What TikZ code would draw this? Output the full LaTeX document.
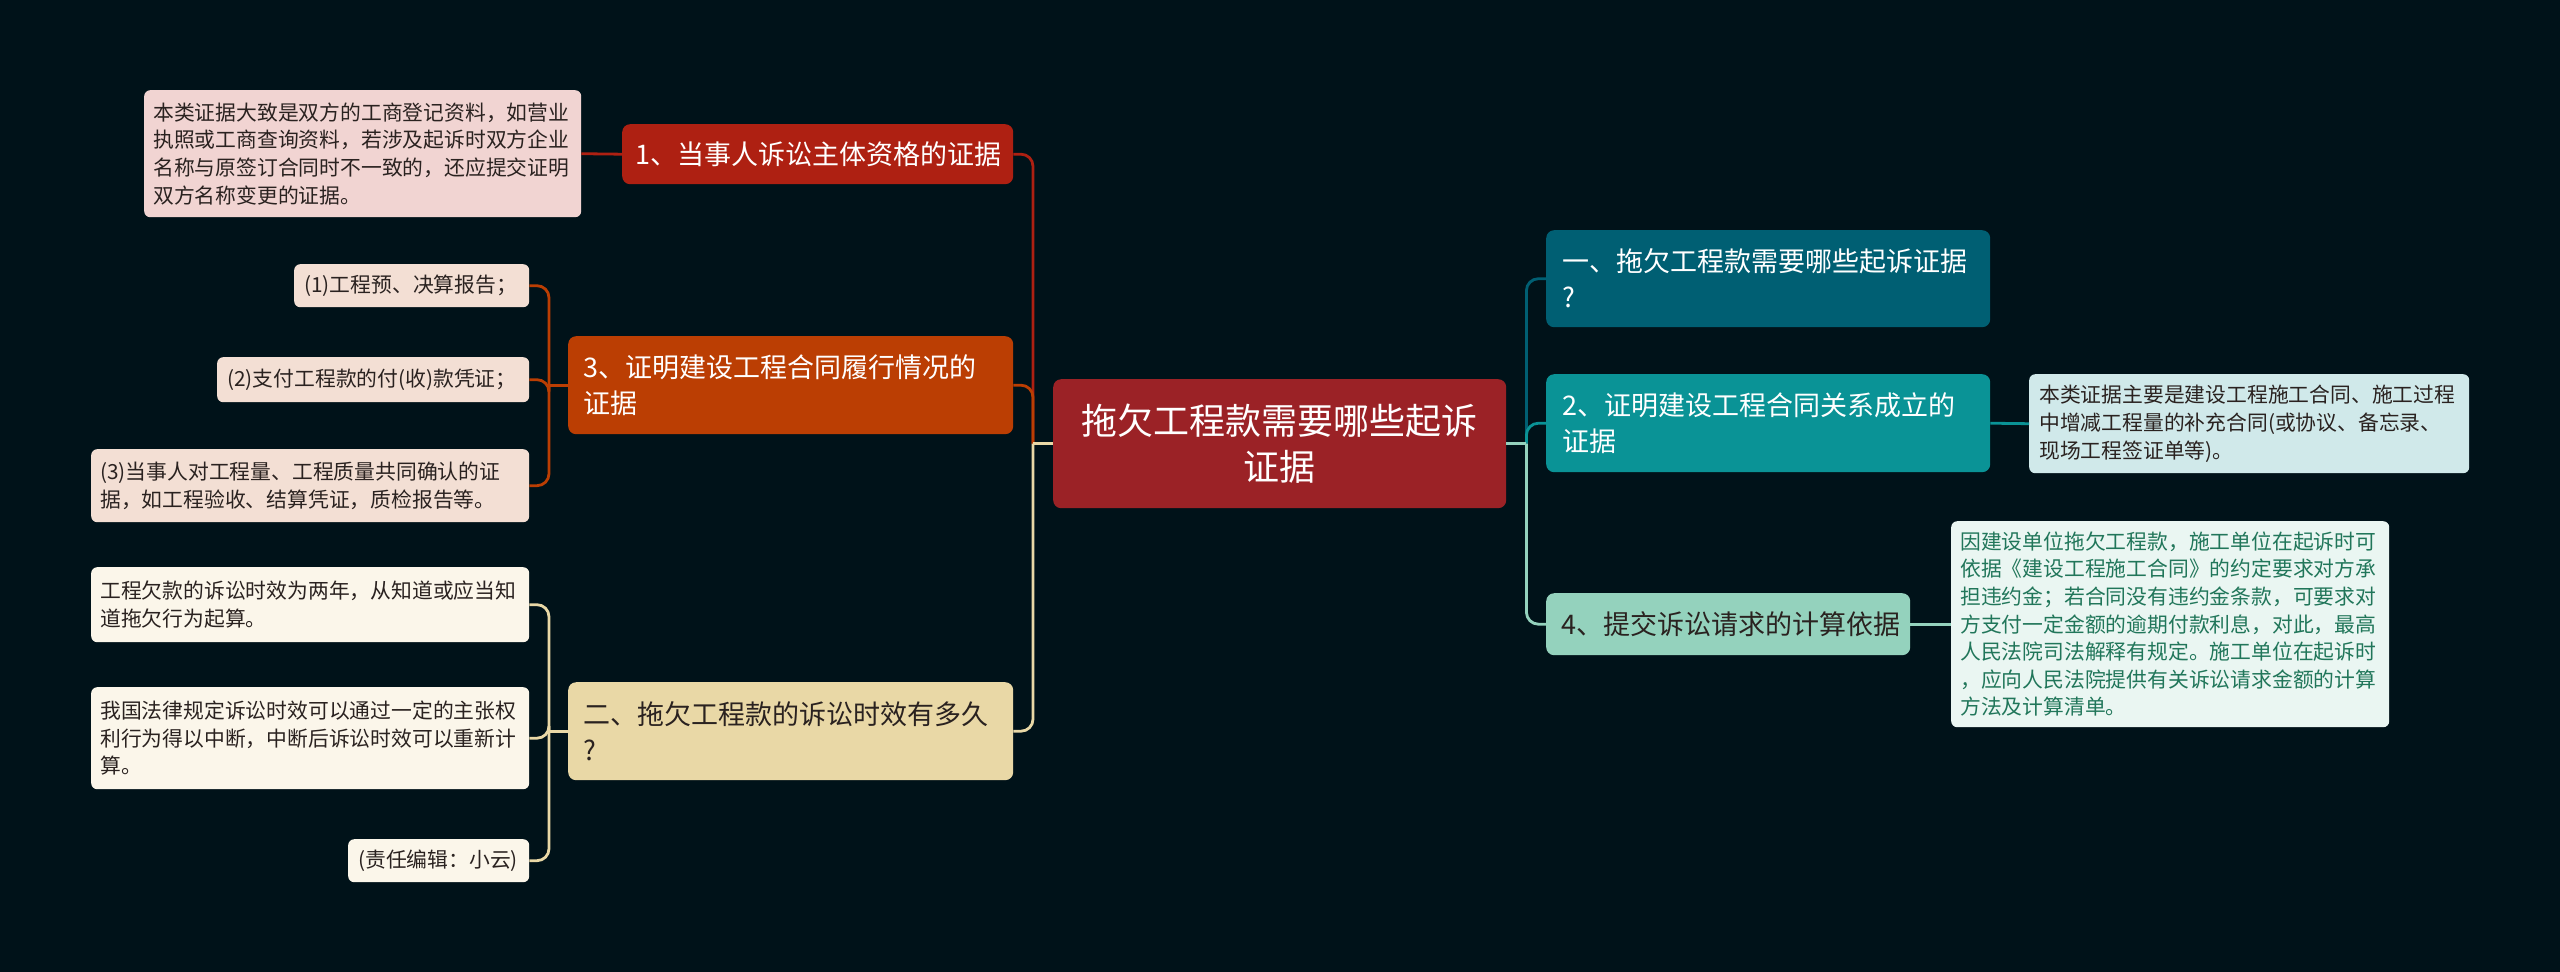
\documentclass[tikz,border=0pt]{standalone}
\usepackage{fontspec}
\setmainfont{Noto Sans CJK SC}
\usetikzlibrary{calc}
\definecolor{bg}{HTML}{001219}
\definecolor{cRoot}{HTML}{9B2226}
\definecolor{cRed}{HTML}{AE2012}
\definecolor{cOrange}{HTML}{BB3E03}
\definecolor{cSand}{HTML}{E9D8A6}
\definecolor{cDeep}{HTML}{005F73}
\definecolor{cTeal}{HTML}{0A9396}
\definecolor{cMint}{HTML}{94D2BD}
\definecolor{lRed}{HTML}{F1D4D2}
\definecolor{lOrange}{HTML}{F3DFD4}
\definecolor{lSand}{HTML}{FBF6EA}
\definecolor{lTeal}{HTML}{D0E9EA}
\definecolor{lMint}{HTML}{EAF6F2}
\definecolor{tMint}{HTML}{21765A}
\definecolor{tDark}{HTML}{2A2220}
\begin{document}
\begin{tikzpicture}[x=1pt,y=-1pt,
  box/.style={rounded corners=8pt, inner sep=0pt, anchor=north west, align=left},
  rootbox/.style={box, fill=cRoot, text=white, align=center,
    font=\fontsize{36}{46}\selectfont},
  branch/.style={box, font=\fontsize{27}{36}\selectfont},
  leaf/.style={box, rounded corners=6pt, font=\fontsize{20.8}{27.6}\selectfont},
  stub/.style={line width=2.8pt},
  conn/.style={line width=2.8pt, rounded corners=12pt}]
\fill[bg] (0,0) rectangle (2560,972);
\useasboundingbox (0,0) rectangle (2560,972);

% root
\node[rootbox, minimum width=453, minimum height=129, text width=420] (c) at (1053,379)
  {拖欠工程款需要哪些起诉\\证据};

% left branches
\node[branch, fill=cRed, text=white, minimum width=391, minimum height=60, text width=365] (b1) at (622,124)
  {1、当事人诉讼主体资格的证据};
\node[branch, fill=cOrange, text=white, minimum width=445, minimum height=98, text width=415] (b3) at (568,336)
  {3、证明建设工程合同履行情况的\\证据};
\node[branch, fill=cSand, text=tDark, minimum width=445, minimum height=98, text width=415] (b2) at (568,682)
  {二、拖欠工程款的诉讼时效有多久\\?};

% right branches
\node[branch, fill=cDeep, text=white, minimum width=444, minimum height=97, text width=412] (q1) at (1546,230)
  {一、拖欠工程款需要哪些起诉证据\\?};
\node[branch, fill=cTeal, text=white, minimum width=444, minimum height=98, text width=412] (q2) at (1546,374)
  {2、证明建设工程合同关系成立的\\证据};
\node[branch, fill=cMint, text=tDark, minimum width=364, minimum height=62, text width=334] (q4) at (1546,593)
  {4、提交诉讼请求的计算依据};

% leaves
\node[leaf, fill=lRed, text=tDark, minimum width=437, minimum height=127, text width=419] (L1) at (144,90)
  {本类证据大致是双方的工商登记资料，如营业\\执照或工商查询资料，若涉及起诉时双方企业\\名称与原签订合同时不一致的，还应提交证明\\双方名称变更的证据。};
\node[leaf, fill=lOrange, text=tDark, minimum width=235, minimum height=43, text width=215] (p1) at (294,264)
  {(1)工程预、决算报告；};
\node[leaf, fill=lOrange, text=tDark, minimum width=312, minimum height=45, text width=292] (p2) at (217,357)
  {(2)支付工程款的付(收)款凭证；};
\node[leaf, fill=lOrange, text=tDark, minimum width=438, minimum height=73, text width=420] (p3) at (91,449)
  {(3)当事人对工程量、工程质量共同确认的证\\据，如工程验收、结算凭证，质检报告等。};
\node[leaf, fill=lSand, text=tDark, minimum width=438, minimum height=75, text width=420] (s1) at (91,567)
  {工程欠款的诉讼时效为两年，从知道或应当知\\道拖欠行为起算。};
\node[leaf, fill=lSand, text=tDark, minimum width=438, minimum height=102, text width=420] (s2) at (91,687)
  {我国法律规定诉讼时效可以通过一定的主张权\\利行为得以中断，中断后诉讼时效可以重新计\\算。};
\node[leaf, fill=lSand, text=tDark, minimum width=181, minimum height=43, text width=161] (s3) at (348,839)
  {(责任编辑：小云)};
\node[leaf, fill=lTeal, text=tDark, minimum width=440, minimum height=99, text width=420] (R2) at (2029,374)
  {本类证据主要是建设工程施工合同、施工过程\\中增减工程量的补充合同(或协议、备忘录、\\现场工程签证单等)。};
\node[leaf, fill=lMint, text=tMint, minimum width=438, minimum height=206, text width=420] (R4) at (1951,521)
  {因建设单位拖欠工程款，施工单位在起诉时可\\依据《建设工程施工合同》的约定要求对方承\\担违约金；若合同没有违约金条款，可要求对\\方支付一定金额的逾期付款利息，对此，最高\\人民法院司法解释有规定。施工单位在起诉时\\，应向人民法院提供有关诉讼请求金额的计算\\方法及计算清单。};

% junctions
\coordinate (jl) at ($(c.west)+(-20,0)$);
\coordinate (jr) at ($(c.east)+(20,0)$);
\coordinate (j3) at ($(b3.west)+(-19,0)$);
\coordinate (j2) at ($(b2.west)+(-19,0)$);

% connectors: root to branches
\draw[conn, cRed] (jl) |- (b1.east);
\draw[conn, cOrange] (jl) |- (b3.east);
\draw[conn, cSand] (jl) |- (b2.east);
\draw[stub, cSand] (c.west) -- (jl);
\draw[conn, cDeep] (jr) |- (q1.west);
\draw[conn, cTeal] (jr) |- (q2.west);
\draw[conn, cMint] (jr) |- (q4.west);
\draw[stub, cMint] (c.east) -- (jr);

% branches to leaves
\draw[conn, cRed] (b1.west) -- (L1.east);
\draw[stub, cOrange] (b3.west) -- (j3);
\draw[conn, cOrange] (j3) |- (p1.east);
\draw[conn, cOrange] (j3) |- (p2.east);
\draw[conn, cOrange] (j3) |- (p3.east);
\draw[stub, cSand] (b2.west) -- (j2);
\draw[conn, cSand] (j2) |- (s1.east);
\draw[conn, cSand] (j2) |- (s2.east);
\draw[conn, cSand] (j2) |- (s3.east);
\draw[conn, cTeal] (q2.east) -- (R2.west);
\draw[conn, cMint] (q4.east) -- (R4.west);
\end{tikzpicture}
\end{document}
